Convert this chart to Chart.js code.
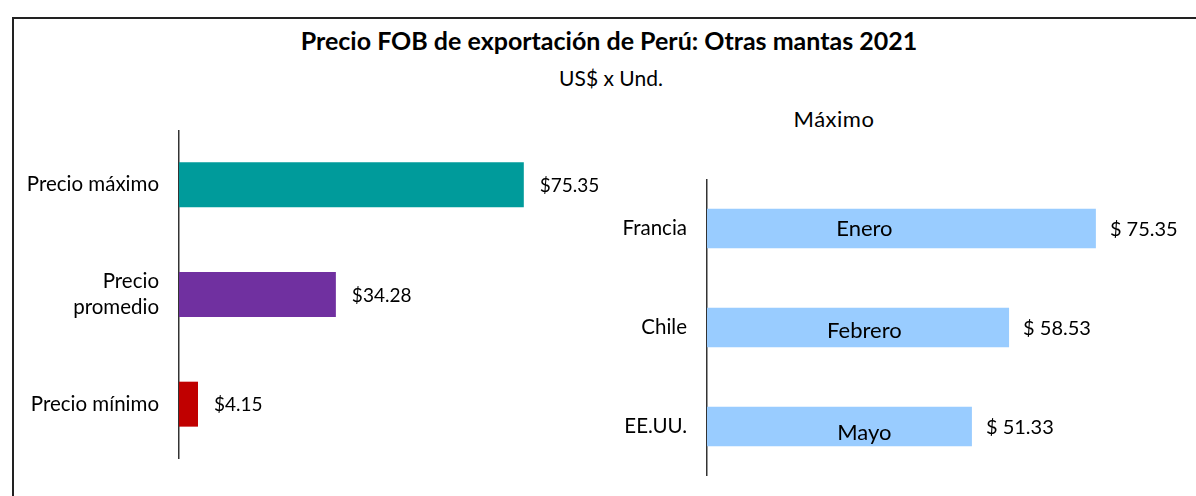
<!DOCTYPE html>
<html>
<head>
<meta charset="utf-8">
<script src="https://cdn.jsdelivr.net/npm/chart.js@4"></script>
<style>
    body { margin: 0; background: #fff; font-family: Lato, sans-serif; }
    #page { position: relative; width: 1196px; height: 496px; overflow: hidden; }
    #frame { position: absolute; left: 12px; top: 17px; width: 1200px; height: 500px; border-top: 2px solid #222; border-left: 2px solid #222; }
    .txt { position: absolute; color: #000; white-space: nowrap; transform: translate(-50%, -50%); }
    #title { left: 609px; top: 40px; font-size: 25px; font-weight: bold; }
    #subtitle { left: 611px; top: 77px; font-size: 21px; }
    #maxTitle { left: 834px; top: 118px; font-size: 22px; letter-spacing: 0.5px; }
    #leftWrap { position: absolute; left: 0; top: 130px; width: 640px; height: 329px; }
    #rightWrap { position: absolute; left: 600px; top: 179px; width: 596px; height: 297px; }
</style>
</head>
<body>
<div id="page">
    <div id="frame"></div>
    <div class="txt" id="title">Precio FOB de exportación de Perú: Otras mantas 2021</div>
    <div class="txt" id="subtitle">US$ x Und.</div>
    <div class="txt" id="maxTitle">Máximo</div>
    <div id="leftWrap"><canvas id="leftChart"></canvas></div>
    <div id="rightWrap"><canvas id="rightChart"></canvas></div>
</div>
<script>
// Left chart: price summary
const priceLabels = ['Precio máximo', ['Precio', 'promedio'], 'Precio mínimo'];
const priceValues = [75.35, 34.28, 4.15];
const priceColors = ['#009B9B', '#7030A0', '#C00000'];

// Right chart: maximum price by country
const countryLabels = ['Francia', 'Chile', 'EE.UU.'];
const countryValues = [75.35, 58.53, 51.33];
const countryMonths = ['Enero', 'Febrero', 'Mayo'];

const fontFamily = 'Lato, sans-serif';

// Value labels next to bar ends (and month names inside bars)
const barLabelPlugin = {
    id: 'barLabels',
    afterDatasetsDraw(chart, args, opts) {
        const ctx = chart.ctx;
        const meta = chart.getDatasetMeta(0);
        const values = chart.data.datasets[0].data;
        ctx.save();
        ctx.fillStyle = '#000';
        ctx.textBaseline = 'middle';
        meta.data.forEach((bar, i) => {
            ctx.font = opts.size + 'px ' + fontFamily;
            ctx.textAlign = 'left';
            ctx.fillText(opts.prefix + values[i].toFixed(2), bar.x + opts.offset, bar.y + 1);
            if (opts.inner) {
                ctx.font = '22px ' + fontFamily;
                ctx.textAlign = 'center';
                const x = chart.scales.x.getPixelForValue(opts.innerAt);
                ctx.fillText(opts.inner[i], x, bar.y + i * 3);
            }
        });
        ctx.restore();
    }
};

function makeOptions(axisWidth, xMax, labelOpts) {
    return {
        indexAxis: 'y',
        responsive: true,
        maintainAspectRatio: false,
        animation: false,
        layout: { padding: { left: 0, right: 40, top: 0, bottom: 0 } },
        plugins: {
            legend: { display: false },
            tooltip: { enabled: false },
            barLabels: labelOpts
        },
        scales: {
            x: { display: false, min: 0, max: xMax },
            y: {
                grid: { display: false, drawTicks: false },
                border: { display: true, color: '#333', width: 1.5 },
                ticks: {
                    color: '#000',
                    padding: 20,
                    font: { family: fontFamily, size: 20.5, lineHeight: 1.3 },
                    align: 'center',
                    crossAlign: 'near'
                },
                afterFit(scale) {
                    scale.width = axisWidth;
                    scale.paddingTop = 0;
                    scale.paddingBottom = 0;
                }
            }
        }
    };
}

new Chart(document.getElementById('leftChart'), {
    type: 'bar',
    data: {
        labels: priceLabels,
        datasets: [{
            data: priceValues,
            backgroundColor: priceColors,
            categoryPercentage: 1,
            barPercentage: 0.41
        }]
    },
    options: makeOptions(179, 92, { prefix: '$', offset: 16, size: 19 }),
    plugins: [barLabelPlugin]
});

new Chart(document.getElementById('rightChart'), {
    type: 'bar',
    data: {
        labels: countryLabels,
        datasets: [{
            data: countryValues,
            backgroundColor: '#99CCFF',
            categoryPercentage: 1,
            barPercentage: 0.4
        }]
    },
    options: makeOptions(107, 87, { prefix: '$ ', offset: 14, size: 20, inner: countryMonths, innerAt: 30.5 }),
    plugins: [barLabelPlugin]
});
</script>
</body>
</html>
